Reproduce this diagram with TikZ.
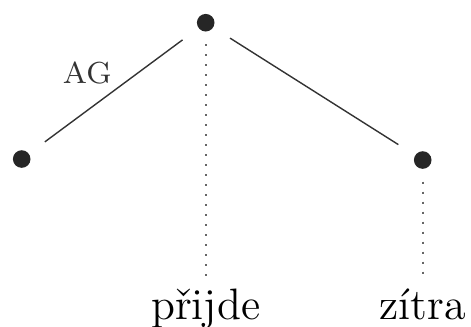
\documentclass[tikz,border=0pt]{standalone}
\usepackage{tikz}

\begin{document}
\begin{tikzpicture}[x=2.5pt, y=2.5pt,
  uzel/.style={circle, fill=black!85, inner sep=0pt, minimum size=4.4pt},
  hrana/.style={line width=0.35pt, black!80, shorten <=4.8pt, shorten >=4.8pt},
  tecky/.style={dotted, line width=0.5pt, black!60, shorten <=3pt},
  slovo/.style={anchor=base, inner sep=2.8pt, font=\fontsize{11}{13}\selectfont}]
\useasboundingbox (0,0) rectangle (47.1,32.6);

% uzly stromu
\node[uzel] (koren) at (20.57,30.33) {};
\node[uzel] (agent) at (2.17,16.7) {};
\node[uzel] (cas) at (42.27,16.6) {};

% slova vety
\node[slovo] (prijde) at (20.57,0.7) {přijde};
\node[slovo] (zitra) at (42.27,0.7) {zítra};

% hrany
\draw[hrana] (koren) -- node[pos=0.55, xshift=-4.5pt, yshift=6pt, font=\fontsize{7.6}{9}\selectfont] (ag) {AG} (agent);
\draw[hrana] (koren) -- (cas);

% tečkované spojnice ke slovům
\draw[tecky] (koren.south) -- (prijde.north);
\draw[tecky] (cas.south) -- (zitra.north);
\end{tikzpicture}
\end{document}
